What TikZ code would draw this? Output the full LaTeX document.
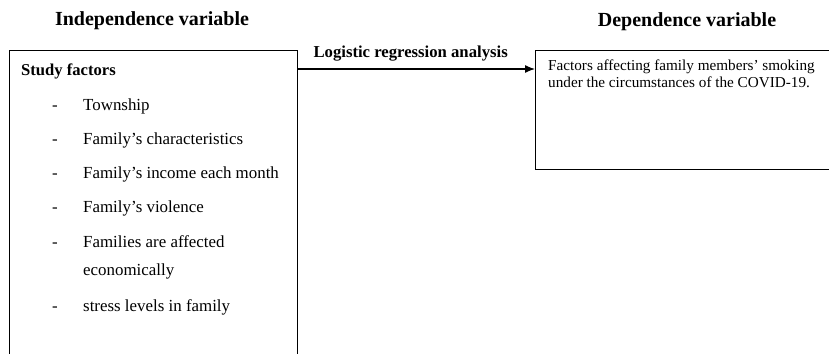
\documentclass[tikz,border=0pt]{standalone}
\usepackage{fontspec}
\setmainfont{Liberation Serif}
\usepackage{tikz}
\usetikzlibrary{arrows,arrows.meta,positioning}

\begin{document}
\begin{tikzpicture}[x=1pt,y=-1pt,>={Latex[length=10pt,width=8pt]},
    head/.style={font=\fontsize{20}{24}\selectfont\bfseries},
    item/.style={anchor=base west,inner sep=0pt,font=\fontsize{16.9}{20}\selectfont},
    hyph/.style={anchor=base,inner sep=0pt,font=\fontsize{16.9}{20}\selectfont}]
	\useasboundingbox (0,0) rectangle (829,353);
	\clip (0,0) rectangle (829,353);

	  \node[head]   (indep)  at (152,21)   {Independence variable};
	  \node[head]   (dep)    at (687,22)   {Dependence variable};

	  \node[draw,line width=1.3pt,minimum width=288pt,minimum height=330pt,anchor=north west] (study) at (9,50) {};
	  \node[draw,line width=1.3pt,minimum width=300pt,minimum height=119pt,anchor=north west] (outcome) at (535,50) {};

	  \node[item,font=\fontsize{16.6}{20}\selectfont\bfseries] (title) at (21,75) {Study factors};
	  \node[hyph]   (d1)  at (55,110)  {-};
	  \node[item]   (f1)  at (83,110)  {Township};
	  \node[hyph]   (d2)  at (55,144)  {-};
	  \node[item]   (f2)  at (83,144)  {Family’s characteristics};
	  \node[hyph]   (d3)  at (55,178)  {-};
	  \node[item]   (f3)  at (83,178)  {Family’s income each month};
	  \node[hyph]   (d4)  at (55,212)  {-};
	  \node[item]   (f4)  at (83,212)  {Family’s violence};
	  \node[hyph]   (d5)  at (55,247)  {-};
	  \node[item]   (f5)  at (83,247)  {Families are affected};
	  \node[item]   (f5b) at (83,275)  {economically};
	  \node[hyph]   (d6)  at (55,311)  {-};
	  \node[item]   (f6)  at (83,311)  {stress levels in family};

	  \node[anchor=north west,inner sep=0pt,align=left,font=\fontsize{15.2}{17}\selectfont] (res) at (548,60)
		  {Factors affecting family members’ smoking\\under the circumstances of the COVID-19.};

	  \coordinate (a) at ([yshift=-19pt]study.north east);
	  \coordinate (b) at ([yshift=-19pt]outcome.north west);
	  \draw[->,line width=1.3pt] (a) -- (b)
		  node[midway,above=4pt,font=\fontsize{16.7}{20}\selectfont\bfseries,xshift=-6pt] {Logistic regression analysis};
\end{tikzpicture}
\end{document}
